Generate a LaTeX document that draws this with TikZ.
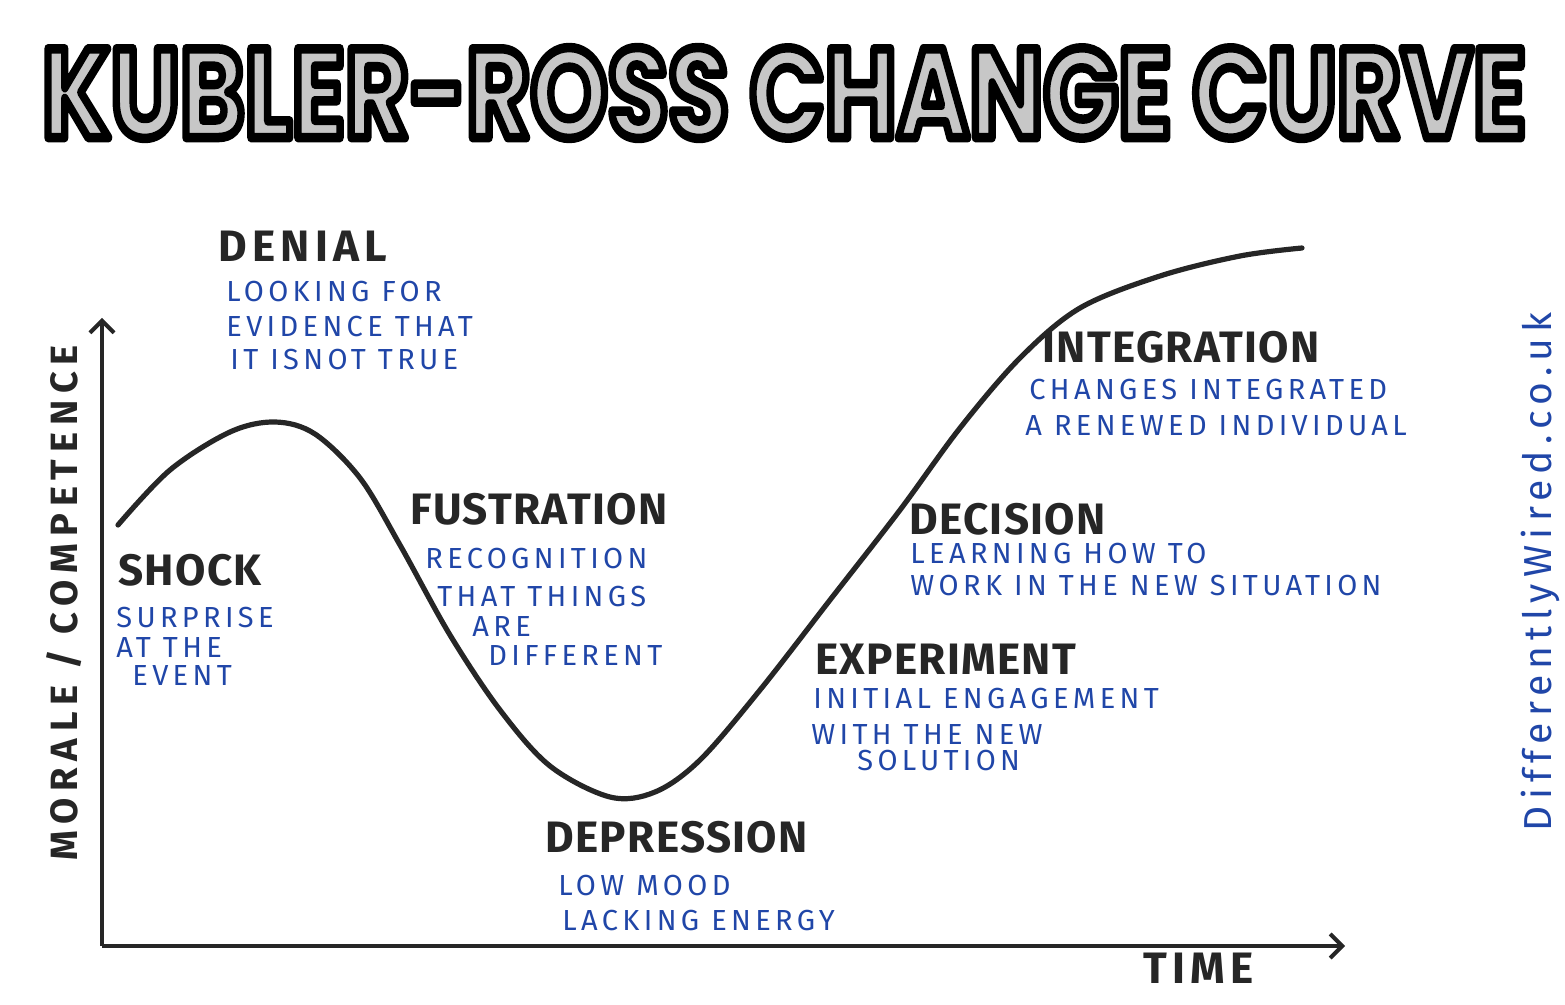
\documentclass[tikz,border=0pt]{standalone}
\usepackage{fontspec}
\setmainfont{Fira Sans}
\newfontfamily\titlefont{Poppins}
\usetikzlibrary{arrows.meta}
\definecolor{ink}{RGB}{32,70,168}
\definecolor{marker}{RGB}{38,38,38}
\newcommand\titletext{KUBLER-ROSS CHANGE CURVE}
\newcommand\outlined[1]{\special{pdf:literal direct 2 Tr 0.75 w 0 0 0 RG 1 j}#1\special{pdf:literal direct 0 Tr}}
\newcommand\titlebox{\resizebox{742pt}{45pt}{\titlefont\bfseries\outlined{\titletext}}}
\tikzset{
  stage/.style={anchor=base west, inner sep=0pt, text=marker,
    font=\fontsize{22}{24}\selectfont\bfseries\addfontfeatures{LetterSpace=3}},
  widestage/.style={stage, font=\fontsize{22}{24}\selectfont\bfseries\addfontfeatures{LetterSpace=12}},
  note/.style={anchor=base west, inner sep=0pt, text=ink,
    font=\fontsize{14.5}{16}\selectfont\addfontfeatures{LetterSpace=15}},
  axisline/.style={draw=marker, line width=2pt,
    -{Straight Barb[length=6pt,width=12pt,line width=2pt]}},
  curveline/.style={draw=marker, line width=2.6pt, line cap=round, line join=round},
  axislabel/.style={inner sep=0pt, text=marker,
    font=\fontsize{19}{21}\selectfont\bfseries\addfontfeatures{LetterSpace=18}},
  weblabel/.style={inner sep=0pt, text=ink,
    font=\fontsize{19.5}{21}\selectfont\addfontfeatures{LetterSpace=16}},
}
\begin{document}
\begin{tikzpicture}[x=0.5pt, y=-0.5pt]
\useasboundingbox (0,0) rectangle (1565,1005);
% title: outlined letters
\node[inner sep=0pt, text=black!22] (title) at (784,93) {\titlebox};
% axes
\coordinate (O) at (102,946);
\coordinate (ytip) at (102,318);
\coordinate (xtip) at (1345,946);
\draw[axisline] (O) -- (ytip);
\draw[axisline] (O) -- (xtip);
\node[axislabel, rotate=90] (ylabel) at (64,603) {MORALE / COMPETENCE};
\node[widestage] (time) at (1143,983) {TIME};
% curve
\draw[curveline] plot[smooth, tension=0.55] coordinates {
  (118,525) (170,470) (230,432) (275,422) (315,434) (360,478) (400,545)
  (450,635) (500,710) (550,766) (610,797) (655,792) (700,760) (760,690)
  (830,600) (900,510) (960,428) (1020,358) (1080,308) (1160,276)
  (1240,256) (1302,248)};
% denial
\node[widestage] (denial) at (218,262) {DENIAL};
\node[note] (denial1) at (226,302) {LOOKING FOR};
\node[note] (denial2) at (226,337) {EVIDENCE THAT};
\node[note] (denial3) at (230,370) {IT ISNOT TRUE};
% shock
\node[stage] (shock) at (118,586) {SHOCK};
\node[note] (shock1) at (116,628) {SURPRISE};
\node[note] (shock2) at (116,658) {AT THE};
\node[note] (shock3) at (132,686) {EVENT};
% frustration
\node[stage] (fust) at (410,525) {FUSTRATION};
\node[note] (fust1) at (425,569) {RECOGNITION};
\node[note] (fust2) at (437,607) {THAT THINGS};
\node[note] (fust3) at (472,637) {ARE};
\node[note] (fust4) at (488,666) {DIFFERENT};
% depression
\node[stage] (depr) at (545,852) {DEPRESSION};
\node[note] (depr1) at (558,895) {LOW MOOD};
\node[note] (depr2) at (562,930) {LACKING ENERGY};
% experiment
\node[stage] (exper) at (815,675) {EXPERIMENT};
\node[note] (exper1) at (813,709) {INITIAL ENGAGEMENT};
\node[note] (exper2) at (811,744) {WITH THE NEW};
\node[note] (exper3) at (857,770) {SOLUTION};
% decision
\node[stage] (decis) at (909,535) {DECISION};
\node[note] (decis1) at (910,564) {LEARNING HOW TO};
\node[note] (decis2) at (910,596) {WORK IN THE NEW SITUATION};
% integration
\node[stage] (integ) at (1042,363) {INTEGRATION};
\node[note] (integ1) at (1029,400) {CHANGES INTEGRATED};
\node[note] (integ2) at (1025,436) {A RENEWED INDIVIDUAL};
% website
\node[weblabel, rotate=90] (web) at (1540,572) {DifferentlyWired.co.uk};
\end{tikzpicture}
\end{document}
